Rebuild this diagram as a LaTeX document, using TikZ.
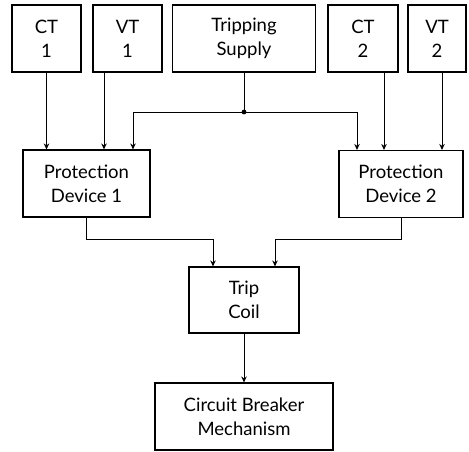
\documentclass[tikz,border=0pt]{standalone}
\usepackage{fontspec}
\setmainfont{Lato}
\usetikzlibrary{arrows.meta, positioning}

\tikzset{
  block/.style={draw, line width=1.1pt, align=center, inner sep=0pt,
    minimum height=67pt, font=\fontsize{18.5}{24}\selectfont},
  wire/.style={line width=0.9pt}
}

\begin{document}
\begin{tikzpicture}[x=1pt, y=-1pt, >={Stealth[length=6pt, width=5.5pt]}]
  \useasboundingbox (0,0) rectangle (469,452);
  % Measuring inputs and supply
  \node[block, minimum width=69pt] (ct1) at (46.5,38.5) {CT\\1};
  \node[block, minimum width=69pt] (vt1) at (127.5,38.5) {VT\\1};
  \node[block, minimum width=143pt] (sup) at (244,38.5) {Tripping\\Supply};
  \node[block, minimum width=70pt] (ct2) at (363,38.5) {CT\\2};
  \node[block, minimum width=58pt] (vt2) at (437,38.5) {VT\\2};
  % Relays
  \node[block, minimum width=127pt] (pd1) at (86.5,183.5) {Protection\\Device 1};
  \node[block, minimum width=124pt] (pd2) at (401,184) {Protection\\Device 2};
  % Trip coil and breaker
  \node[block, minimum width=110pt, minimum height=66pt] (coil) at (244,300) {Trip\\Coil};
  \node[block, minimum width=178pt] (cb) at (244,416.5) {Circuit Breaker\\Mechanism};

  % Connection points
  \coordinate (jn) at (244,112);
  \coordinate (vt1out) at ([xshift=-23.5pt]vt1.south);
  \coordinate (ct2out) at ([xshift=21pt]ct2.south);
  \coordinate (vt2out) at ([xshift=5pt]vt2.south);
  \coordinate (pd1in) at ([xshift=46.5pt]pd1.north);
  \coordinate (pd2in) at ([xshift=-44pt]pd2.north);
  \coordinate (coilinL) at ([xshift=-31pt]coil.north);
  \coordinate (coilinR) at ([xshift=31pt]coil.north);

  % Signals into the relays
  \draw[wire, ->] (ct1.south) -- (ct1.south |- pd1.north);
  \draw[wire, ->] (vt1out) -- (vt1out |- pd1.north);
  \draw[wire, ->] (ct2out) -- (ct2out |- pd2.north);
  \draw[wire, ->] (vt2out) -- (vt2out |- pd2.north);
  % Tripping supply
  \draw[wire] (sup.south) -- (jn);
  \fill (jn) circle (2.4pt);
  \draw[wire, ->] (jn) -| (pd1in);
  \draw[wire, ->] (jn) -| (pd2in);
  % Relays to trip coil
  \draw[wire, ->] (pd1.south) -- ++(0,22) -| (coilinL);
  \draw[wire, ->] (pd2.south) -- ++(0,21) -| (coilinR);
  \draw[wire, ->] (coil.south) -- (cb.north);
\end{tikzpicture}
\end{document}
